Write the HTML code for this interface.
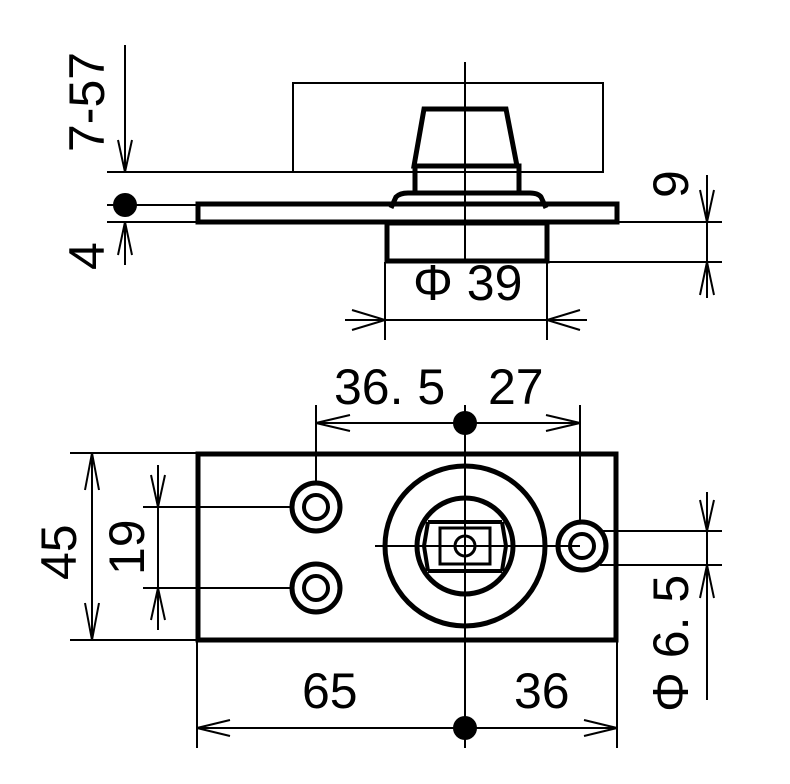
<!DOCTYPE html>
<html><head><meta charset="utf-8"><style>
html,body{margin:0;padding:0;background:#fff;}
svg{display:block;}
text{font-family:"Liberation Sans",sans-serif;font-size:50px;fill:#000;}
</style></head><body>
<svg width="790" height="784" viewBox="0 0 790 784" xmlns="http://www.w3.org/2000/svg">
<g fill="none" stroke="#000" stroke-width="2">
<line x1="465" y1="62" x2="465" y2="262"/>
<rect x="293" y="83" width="310" height="89"/>
<line x1="107" y1="172" x2="320" y2="172"/>
<line x1="107" y1="205" x2="197" y2="205"/>
<line x1="107" y1="222" x2="197" y2="222"/>
<line x1="125" y1="45" x2="125" y2="172"/>
<polyline points="118,140 125,172 132,140"/>
<line x1="125" y1="222" x2="125" y2="265"/>
<polyline points="118,255 125,222 132,255"/>
<line x1="617" y1="222" x2="722" y2="222"/>
<line x1="547" y1="262" x2="722" y2="262"/>
<line x1="707" y1="175" x2="707" y2="298"/>
<polyline points="700,190 707,222 714,190"/>
<polyline points="700,295 707,262 714,295"/>
<line x1="385" y1="262" x2="385" y2="340"/>
<line x1="547" y1="262" x2="547" y2="340"/>
<line x1="345" y1="320" x2="587" y2="320"/>
<polyline points="352,310 385,320 352,330"/>
<polyline points="580,310 547,320 580,330"/>
</g>
<g fill="none" stroke="#000" stroke-width="5">
<path d="M424,109 L506,109 L517,166 L414,166 Z"/>
<rect x="415" y="166" width="104" height="27"/>
<path d="M391,208 L396,197 Q400,193 408,193 L530,193 Q538,193 541,197 L546,208"/>
<rect x="198" y="204" width="419" height="18"/>
<rect x="387" y="223" width="160" height="38"/>
</g>
<circle cx="125" cy="205" r="12" fill="#000"/>
<text transform="translate(104,152) rotate(-90)">7-57</text>
<text transform="translate(104,270) rotate(-90)">4</text>
<text transform="translate(688,198) rotate(-90)">9</text>
<text x="413" y="300">Φ 39</text>

<g fill="none" stroke="#000" stroke-width="2">
<line x1="465" y1="405" x2="465" y2="748"/>
<line x1="316" y1="423" x2="580" y2="423"/>
<polyline points="350,415 316,423 350,431"/>
<polyline points="546,415 580,423 546,431"/>
<line x1="316" y1="405" x2="316" y2="483"/>
<line x1="580" y1="405" x2="580" y2="522"/>
<line x1="375" y1="546" x2="580" y2="546"/>
<line x1="70" y1="453" x2="197" y2="453"/>
<line x1="70" y1="640" x2="197" y2="640"/>
<line x1="92" y1="453" x2="92" y2="640"/>
<polyline points="85,490 92,453 99,490"/>
<polyline points="85,603 92,640 99,603"/>
<line x1="143" y1="507" x2="290" y2="507"/>
<line x1="143" y1="588" x2="290" y2="588"/>
<line x1="158" y1="465" x2="158" y2="630"/>
<polyline points="151,475 158,507 165,475"/>
<polyline points="151,620 158,588 165,620"/>
<line x1="600" y1="531" x2="722" y2="531"/>
<line x1="600" y1="565" x2="722" y2="565"/>
<line x1="707" y1="492" x2="707" y2="700"/>
<polyline points="700,500 707,531 714,500"/>
<polyline points="700,598 707,565 714,598"/>
<line x1="197" y1="640" x2="197" y2="748"/>
<line x1="617" y1="640" x2="617" y2="748"/>
<line x1="197" y1="728" x2="617" y2="728"/>
<polyline points="230,720 197,728 230,736"/>
<polyline points="584,720 617,728 584,736"/>
</g>
<g fill="none" stroke="#000" stroke-width="5">
<rect x="198" y="454" width="418" height="186"/>
<circle cx="316" cy="507" r="24"/><circle cx="316" cy="507" r="12" stroke-width="4"/>
<circle cx="316" cy="588" r="24"/><circle cx="316" cy="588" r="12" stroke-width="4"/>
<circle cx="582" cy="546" r="24"/><circle cx="582" cy="546" r="12" stroke-width="4"/>
<circle cx="465" cy="546" r="80"/>
<circle cx="465" cy="546" r="48"/>
<path d="M428,522 L502,522 M428,571 L502,571 M424,546 L428,522 M424,546 L428,571 M506,546 L502,522 M506,546 L502,571" stroke-width="4"/>
<path d="M440,528 L490,528 L490,564 L440,564 Z" stroke-width="3"/>
<circle cx="465" cy="546" r="10" stroke-width="3"/>
</g>
<circle cx="465" cy="423" r="12" fill="#000"/>
<circle cx="465" cy="728" r="12" fill="#000"/>
<text x="334" y="404">36. 5</text>
<text x="488" y="404">27</text>
<text transform="translate(76,580) rotate(-90)">45</text>
<text transform="translate(144,575) rotate(-90)">19</text>
<text transform="translate(688,712) rotate(-90)">Φ 6. 5</text>
<text x="302" y="708">65</text>
<text x="514" y="708">36</text>
</svg>
</body></html>
